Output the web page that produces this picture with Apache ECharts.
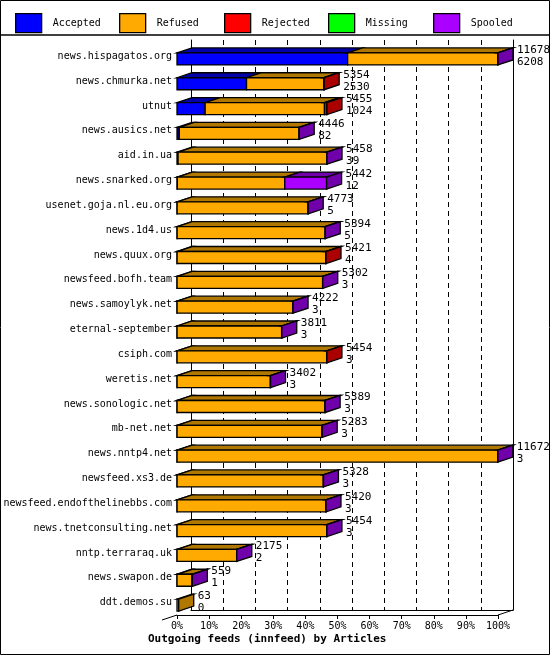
<!DOCTYPE html>
<html>
<head>
<meta charset="utf-8">
<script src="https://cdn.jsdelivr.net/npm/echarts@6/dist/echarts.min.js"></script>
<style>html,body{margin:0;padding:0;background:#fff}#main{width:550px;height:655px}</style>
</head>
<body>
<div id="main"></div>
<script>
// feeds, top to bottom
var feeds = ['news.hispagatos.org','news.chmurka.net','utnut','news.ausics.net','aid.in.ua',
  'news.snarked.org','usenet.goja.nl.eu.org','news.1d4.us','news.quux.org','newsfeed.bofh.team',
  'news.samoylyk.net','eternal-september','csiph.com','weretis.net','news.sonologic.net',
  'mb-net.net','news.nntp4.net','newsfeed.xs3.de','newsfeed.endofthelinebbs.com',
  'news.tnetconsulting.net','nntp.terraraq.uk','news.swapon.de','ddt.demos.su'];
var offered  = [11678,5354,5455,4446,5458,5442,4773,5394,5421,5302,4222,3811,5454,3402,5389,5283,11672,5328,5420,5454,2175,559,63];
var accepted = [6208,2530,1024,82,39,12,5,5,4,3,3,3,3,3,3,3,3,3,3,3,2,1,0];
var rejected = [0,15,90,0,0,0,0,0,8,0,0,0,10,0,0,0,0,0,0,0,0,0,0];
var missing  = [0,0,0,0,0,0,0,0,0,0,0,0,0,0,0,0,0,0,0,0,0,0,0];
var spooled  = [10,0,0,5,5,1520,5,5,0,5,5,5,0,5,5,5,5,5,5,5,5,10,0];
var refused = offered.map(function (v, i) {
  return v - accepted[i] - rejected[i] - missing[i] - spooled[i];
});
var maxVal = Math.max.apply(null, offered);

var kinds = [
  {name: 'Accepted', vals: accepted, color: '#0000ff', dark: '#0000aa'},
  {name: 'Refused',  vals: refused,  color: '#ffaa00', dark: '#b07800'},
  {name: 'Rejected', vals: rejected, color: '#ff0000', dark: '#aa0000'},
  {name: 'Missing',  vals: missing,  color: '#00ff00', dark: '#00a000'},
  {name: 'Spooled',  vals: spooled,  color: '#aa00ff', dark: '#7000aa'}
];

var DX = 15, DY = 5, FONT = '"DejaVu Sans Mono", monospace';

// which kind is the last non-zero segment in each row
var lastKind = feeds.map(function (f, i) {
  var k = -1;
  kinds.forEach(function (kd, j) { if (kd.vals[i] > 0) k = j; });
  return k;
});

var series = kinds.map(function (kd, j) {
  var data = [];
  feeds.forEach(function (f, i) {
    var start = 0;
    for (var m = 0; m < j; m++) start += kinds[m].vals[i];
    if (kd.vals[i] > 0) data.push([start, start + kd.vals[i], i, lastKind[i] === j ? 1 : 0]);
  });
  return {
    name: kd.name, type: 'custom', xAxisIndex: 0, yAxisIndex: 0,
    itemStyle: {color: kd.color},
    data: data,
    renderItem: function (params, api) {
      var a = api.coord([api.value(0), api.value(2)]);
      var b = api.coord([api.value(1), api.value(2)]);
      var x0 = a[0], x1 = b[0], c = a[1];
      var yt = c - 3.5, yb = c + 8.5;
      var st = {stroke: '#000', lineWidth: 1.3};
      var kids = [
        {type: 'polygon', shape: {points: [[x0, yt], [x1, yt], [x1 + DX, yt - DY], [x0 + DX, yt - DY]]},
          style: Object.assign({fill: kd.dark}, st)},
        {type: 'rect', shape: {x: x0, y: yt, width: x1 - x0, height: yb - yt},
          style: Object.assign({fill: kd.color}, st)}
      ];
      if (api.value(3) === 1) {
        var i = api.value(2);
        kids.push({type: 'polygon', shape: {points: [[x1, yt], [x1 + DX, yt - DY], [x1 + DX, yb - DY], [x1, yb]]},
          style: Object.assign({fill: kd.dark}, st)});
        kids.push({type: 'text', style: {text: offered[i] + '\n' + accepted[i], x: x1 + DX + 4, y: yt - DY - 4,
          fill: '#000', font: '11px ' + FONT, lineHeight: 12}});
      }
      return {type: 'group', children: kids};
    }
  };
});

var legendLeft = [10, 114, 219, 323, 428];

var option = {
  animation: false,
  backgroundColor: '#fff',
  legend: kinds.map(function (k, j) {
    return {
      top: 8, left: legendLeft[j], itemWidth: 26, itemHeight: 19, icon: 'rect',
      itemStyle: {borderColor: '#000', borderWidth: 1.3},
      textStyle: {fontFamily: FONT, fontSize: 10, color: '#000', padding: [0, 0, 0, 6]},
      data: [k.name]
    };
  }),
  graphic: [
    {type: 'rect', shape: {x: 0.5, y: 0.5, width: 549, height: 654}, style: {fill: 'none', stroke: '#000', lineWidth: 1}},
    {type: 'line', shape: {x1: 0, y1: 35, x2: 550, y2: 35}, style: {stroke: '#000', lineWidth: 1.3}},
    {type: 'line', shape: {x1: 162, y1: 620, x2: 177, y2: 615}, style: {stroke: '#000', lineWidth: 1}},
    {type: 'line', shape: {x1: 498, y1: 615, x2: 513, y2: 610}, style: {stroke: '#000', lineWidth: 1}},
    {type: 'text', left: 148, top: 634, style: {text: 'Outgoing feeds (innfeed) by Articles',
      font: 'bold 11px ' + FONT, fill: '#000'}}
  ],
  grid: [
    {left: 177, right: 52, top: 44, bottom: 40, outerBoundsMode: 'none', containLabel: false},
    {left: 191, right: 37, top: 40, bottom: 45, outerBoundsMode: 'none', containLabel: false}
  ],
  xAxis: [
    {gridIndex: 0, type: 'value', min: 0, max: maxVal, interval: maxVal / 10,
      axisLine: {show: true, lineStyle: {color: '#000'}}, axisTick: {show: true, length: 4, lineStyle: {color: '#000'}},
      splitLine: {show: false},
      axisLabel: {fontFamily: FONT, fontSize: 10, color: '#000', margin: 6, showMinLabel: true, showMaxLabel: true,
        formatter: function (v) { return Math.round(v / maxVal * 100) + '%'; }}},
    {gridIndex: 1, type: 'value', min: 0, max: maxVal, interval: maxVal / 10,
      axisLine: {show: true, lineStyle: {color: '#000'}}, axisTick: {show: false}, axisLabel: {show: false},
      splitLine: {show: true, lineStyle: {color: '#000', type: [5, 4], width: 1}}}
  ],
  yAxis: [
    {gridIndex: 0, type: 'category', inverse: true, data: feeds,
      axisLine: {show: false}, axisTick: {show: false},
      axisLabel: {fontFamily: FONT, fontSize: 10, color: '#000', margin: 5, interval: 0}},
    {gridIndex: 1, type: 'value', position: 'left', axisLine: {show: true, lineStyle: {color: '#000'}},
      axisTick: {show: false}, axisLabel: {show: false}, splitLine: {show: false}},
    {gridIndex: 1, type: 'value', position: 'right', axisLine: {show: true, lineStyle: {color: '#000'}},
      axisTick: {show: false}, axisLabel: {show: false}, splitLine: {show: false}}
  ],
  series: series
};

echarts.init(document.getElementById('main')).setOption(option);
</script>
</body>
</html>
